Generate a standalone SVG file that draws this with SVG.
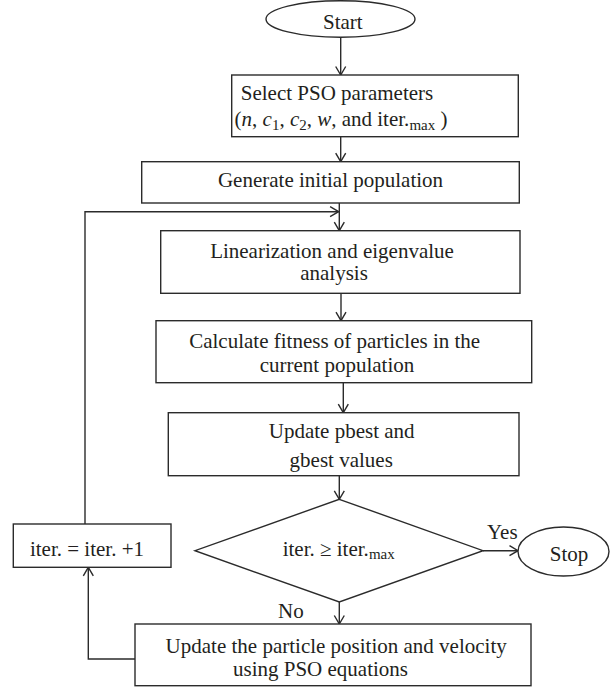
<svg xmlns="http://www.w3.org/2000/svg" width="610" height="690" viewBox="0 0 610 690">
<style>
  .box { fill: #ffffff; stroke: #2b2b2b; stroke-width: 1.4; }
  .ln { fill: none; stroke: #2b2b2b; stroke-width: 1.4; }
  .t { font-family: "Liberation Serif", "Times New Roman", serif; font-size: 21px; fill: #231f20; }
  .c { text-anchor: middle; }
  .sub { font-size: 15px; }
  .it { font-style: italic; }
</style>
<defs>
  <marker id="arr" viewBox="0 0 10 12" refX="9.5" refY="6" markerWidth="10" markerHeight="12" markerUnits="userSpaceOnUse" orient="auto">
    <path d="M1,1 L9.5,6 L1,11" fill="none" stroke="#2b2b2b" stroke-width="1.4"/>
  </marker>
</defs>
<rect width="610" height="690" fill="#ffffff"/>

<g id="connectors">
  <line class="ln" x1="340.7" y1="37" x2="340.7" y2="75" marker-end="url(#arr)"/>
  <line class="ln" x1="340.7" y1="137" x2="340.7" y2="161.7" marker-end="url(#arr)"/>
  <line class="ln" x1="339.3" y1="203" x2="339.3" y2="230.7" marker-end="url(#arr)"/>
  <line class="ln" x1="341" y1="293.3" x2="341" y2="320.7" marker-end="url(#arr)"/>
  <line class="ln" x1="343.3" y1="382.7" x2="343.3" y2="412.7" marker-end="url(#arr)"/>
  <line class="ln" x1="339.3" y1="475.7" x2="339.3" y2="499.3" marker-end="url(#arr)"/>
  <line class="ln" x1="339.3" y1="602" x2="339.3" y2="624" marker-end="url(#arr)"/>
  <line class="ln" x1="483" y1="550.7" x2="518" y2="550.7" marker-end="url(#arr)"/>
  <polyline class="ln" points="85,524 85,211.7 338.6,211.7" marker-end="url(#arr)"/>
  <polyline class="ln" points="135,659 88.3,659 88.3,567.3" marker-end="url(#arr)"/>
</g>

<g id="start">
  <ellipse class="box" cx="340.5" cy="19" rx="74.5" ry="18.3"/>
  <text class="t c" x="342.8" y="28.5">Start</text>
</g>

<g id="select">
  <rect class="box" x="231.7" y="75" width="286.6" height="61.7"/>
  <text class="t c" x="337" y="100">Select PSO parameters</text>
  <text class="t c" x="341" y="126">(<tspan class="it">n</tspan>, <tspan class="it">c</tspan><tspan class="sub" dy="4">1</tspan><tspan dy="-4">, </tspan><tspan class="it">c</tspan><tspan class="sub" dy="4">2</tspan><tspan dy="-4">, </tspan><tspan class="it">w</tspan>, and iter.<tspan class="sub" dy="4">max</tspan><tspan dy="-4"> )</tspan></text>
</g>

<g id="generate">
  <rect class="box" x="141.7" y="161.7" width="377.6" height="41.3"/>
  <text class="t c" x="330.5" y="187">Generate initial population</text>
</g>

<g id="linearization">
  <rect class="box" x="160.7" y="230.7" width="359.3" height="62.6"/>
  <text class="t c" x="332" y="258">Linearization and eigenvalue</text>
  <text class="t c" x="334" y="280">analysis</text>
</g>

<g id="fitness">
  <rect class="box" x="156" y="320.7" width="375.7" height="62"/>
  <text class="t c" x="334.7" y="348.3">Calculate fitness of particles in the</text>
  <text class="t c" x="337" y="371.7">current population</text>
</g>

<g id="update-best">
  <rect class="box" x="168.3" y="412.7" width="350.7" height="63"/>
  <text class="t c" x="341.7" y="438">Update pbest and</text>
  <text class="t c" x="341.2" y="467">gbest values</text>
</g>

<g id="decision">
  <polygon class="box" points="339.3,499.3 483,550.7 339.3,602 195,550.7"/>
  <text class="t" x="282.7" y="555.7">iter. ≥ iter.<tspan class="sub" dy="3.5">max</tspan></text>
</g>

<g id="yes-label">
  <text class="t" x="487" y="539">Yes</text>
</g>

<g id="no-label">
  <text class="t" x="278" y="618">No</text>
</g>

<g id="stop">
  <ellipse class="box" cx="563.5" cy="551.5" rx="45.5" ry="24.5"/>
  <text class="t c" x="569" y="561">Stop</text>
</g>

<g id="increment">
  <rect class="box" x="13.3" y="524" width="157.7" height="43.3"/>
  <text class="t c" x="87" y="556">iter. = iter. +1</text>
</g>

<g id="update-position">
  <rect class="box" x="135" y="624" width="396" height="61.7"/>
  <text class="t c" x="336.2" y="653">Update the particle position and velocity</text>
  <text class="t c" x="320.5" y="676">using PSO equations</text>
</g>
</svg>
